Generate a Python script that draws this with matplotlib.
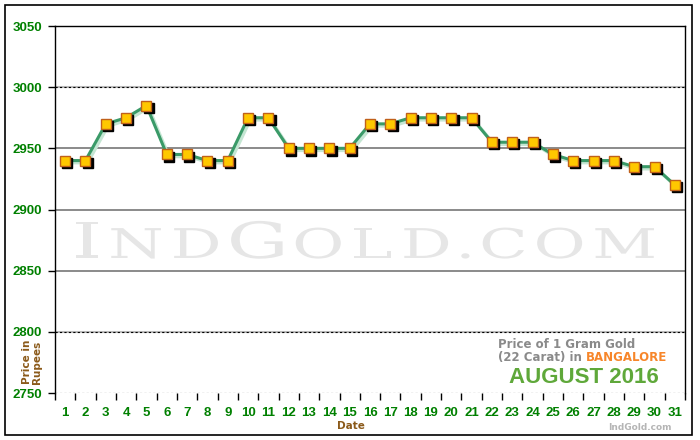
"""
    gold price chart - Bangalore, August 2016 (22 carat, 1 gram)
"""

import numpy as np
import matplotlib.pyplot as plt
import matplotlib.transforms as mtransforms
from matplotlib.patches import Rectangle, PathPatch
from matplotlib.textpath import TextPath
from matplotlib.font_manager import FontProperties

##########  data  ##########
days = list(range(1, 32))
prices = [2940, 2940, 2970, 2975, 2985, 2945, 2945, 2940, 2940, 2975,
          2975, 2950, 2950, 2950, 2950, 2970, 2970, 2975, 2975, 2975,
          2975, 2955, 2955, 2955, 2945, 2940, 2940, 2940, 2935, 2935,
          2920]
yticks = [2750, 2800, 2850, 2900, 2950, 3000, 3050]

green = '#008000'
brown = '#8B5A1A'
lab_font = 'Liberation Sans'

fig = plt.figure(figsize=(7, 4.4), dpi=100)
ax = fig.add_axes([55/700, 47/440, 630/700, 367/440])
renderer = fig.canvas.get_renderer()

# outer frame
fig.patches.append(Rectangle((5/700, 5/440), 687/700, 430/440, transform=fig.transFigure,
                             fill=False, edgecolor='black', linewidth=1.2))

ax.set_xlim(0.5, 31.5)
ax.set_ylim(2750, 3050)

# grid lines
for v in yticks[1:-1]:
    if v in (2950, 2900, 2850):
        ax.axhline(v, color='#777777', lw=1.2, zorder=1)
    else:
        ax.axhline(v, color='#BBBBBB', lw=1.5, zorder=1)
        ax.axhline(v, color='black', lw=0.8, ls=(0, (2, 2)), zorder=1)
ax.axhline(2750, color='black', lw=0.8, ls=(0, (2, 2)), zorder=1)

# watermark  INDGOLD.COM in wide small caps, x=76..654, baseline y=258 (pixels from top)
wm = [('I', 50), ('N', 41), ('D', 41), ('G', 50), ('O', 41), ('L', 41), ('D', 41),
      ('.', 41), ('C', 41), ('O', 41), ('M', 41)]
fp = FontProperties(family='DejaVu Serif')
stretch = 1.55
paths = []
widths = []
for ch, size in wm:
    p = TextPath((0, 0), ch, size=size, prop=fp)
    ext = p.get_extents()
    paths.append((p, ext.x0))
    widths.append(ext.width * stretch)
gap = (578 - sum(widths)) / (len(wm) - 1)
x = 76
for (p, x0), w in zip(paths, widths):
    tr = mtransforms.Affine2D().translate(-x0, 0).scale(stretch, 1).translate(x, 440 - 258)
    fig.patches.append(PathPatch(tr.transform_path(p), transform=mtransforms.IdentityTransform(),
                                 facecolor='#E6E6E6', edgecolor='none', zorder=0))
    x = x + w + gap

# line with soft shadow
shadow = mtransforms.offset_copy(ax.transData, fig=fig, x=1.5, y=-1.5, units='points')
ax.plot(days, prices, color='#C5E6D3', lw=2.5, transform=shadow, zorder=2)
ax.plot(days, prices, color='#3A9A68', lw=2.2, zorder=3)

# markers with black drop shadow
mshadow = mtransforms.offset_copy(ax.transData, fig=fig, x=1.6, y=-1.6, units='points')
ax.plot(days, prices, ls='none', marker='s', ms=7.5, color='black', transform=mshadow, zorder=4)
ax.plot(days, prices, ls='none', marker='s', ms=7.5, markerfacecolor='#FFC800',
        markeredgecolor='#C0601A', markeredgewidth=1, zorder=5)

# axes styling
ax.patch.set_alpha(0)
ax.spines['bottom'].set_visible(False)
for s in ('left', 'top', 'right'):
    ax.spines[s].set_color('black')
    ax.spines[s].set_linewidth(1)

ax.set_yticks(yticks)
ax.set_yticklabels([str(v) for v in yticks], color=green, fontweight='bold',
                   fontsize=9.5, family=lab_font)
ax.tick_params(axis='y', length=5, width=1, pad=4.5)

ax.set_xticks(days)
ax.set_xticklabels([str(d) for d in days], color=green, fontweight='bold',
                   fontsize=9.5, family=lab_font)
ax.set_xticks(np.arange(0.5, 32, 1), minor=True)
ax.tick_params(axis='x', which='major', length=0, pad=10)
ax.tick_params(axis='x', which='minor', length=5, width=1, direction='out')

fig.text(351/700, (440 - 426)/440, 'Date', color=brown, fontweight='bold',
         fontsize=7.5, ha='center', va='center')
fig.text(32/700, (440 - 362)/440, 'Price in\nRupees', color=brown, fontweight='bold',
         fontsize=7.5, ha='center', va='center', rotation=90, linespacing=1.0)

# title block
fig.text(498/700, (440 - 344)/440, 'Price of 1 Gram Gold', color='#8A8A8A',
         fontweight='bold', fontsize=8.5, ha='left', va='center')
t1 = fig.text(498/700, (440 - 357)/440, '(22 Carat) in ', color='#8A8A8A',
              fontweight='bold', fontsize=8.5, ha='left', va='center')
w = t1.get_window_extent(renderer).width
fig.text((498 + w)/700, (440 - 357)/440, 'BANGALORE', color='#F7862A',
         fontweight='bold', fontsize=8.5, ha='left', va='center')
fig.text(584/700, (440 - 377)/440, 'AUGUST 2016', color='#5FA83A',
         fontweight='bold', fontsize=16, ha='center', va='center', family=lab_font)
fig.text(640/700, (440 - 427)/440, 'IndGold.com', color='#B5B5B5',
         fontweight='bold', fontsize=6.5, ha='center', va='center')

plt.savefig('out.png', dpi=100)
